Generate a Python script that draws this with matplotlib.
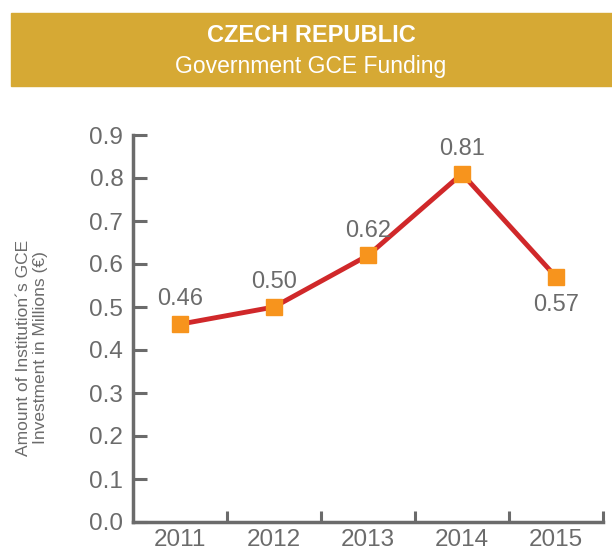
import matplotlib.pyplot as plt
from matplotlib import font_manager
from matplotlib.patches import Rectangle

# pick a narrow face if one is around
names = {f.name for f in font_manager.fontManager.ttflist}
narrow = 'Liberation Sans Narrow' if 'Liberation Sans Narrow' in names else 'Liberation Sans'
plt.rcParams['font.family'] = [narrow, 'DejaVu Sans']

years = ['2011', '2012', '2013', '2014', '2015']
funding = [0.46, 0.50, 0.62, 0.81, 0.57]
label_above = [True, True, True, True, False]

grey = '#6b6b6b'
gold = '#d6a934'

fig = plt.figure(figsize=(6.12, 5.55), dpi=100)

# header banner
fig.patches.append(Rectangle((11 / 612, 1 - 86 / 555), 601 / 612, 73 / 555,
                             transform=fig.transFigure, color=gold, zorder=0))
fig.text(311 / 612, 1 - 35 / 555, 'CZECH REPUBLIC', color='white',
         fontsize=17, fontweight='bold', ha='center', va='center')
fig.text(311 / 612, 1 - 67 / 555, 'Government GCE Funding', color='white',
         fontsize=16.5, ha='center', va='center')

ax = fig.add_axes([133 / 612, 1 - 522 / 555, 470 / 612, 387 / 555])
x = list(range(len(years)))
ax.plot(x, funding, color='#d0282a', lw=3.5, zorder=2)
ax.plot(x, funding, ls='none', marker='s', ms=11, color='#f7941d', zorder=3)

for xi, v, up in zip(x, funding, label_above):
    ax.annotate(f'{v:.2f}', (xi, v), xytext=(0, 10 if up else -12),
                textcoords='offset points', ha='center',
                va='bottom' if up else 'top', color=grey, fontsize=17)

ax.set_xlim(-0.5, 4.5)
ax.set_ylim(0, 0.9)
ax.set_yticks([i / 10 for i in range(10)])
ax.set_yticklabels([f'{i / 10:.1f}' for i in range(10)])
ax.set_xticks([i + 0.5 for i in range(5)])
ax.set_xticklabels([])
ax.set_xticks(x, minor=True)
ax.set_xticklabels(years, minor=True)
ax.tick_params(axis='x', which='minor', length=0, pad=5)
ax.tick_params(axis='x', which='major', direction='in', length=8, width=2.2, color=grey)
ax.tick_params(axis='y', direction='in', length=10, width=2.2, color=grey, pad=7)
ax.tick_params(labelsize=17.5, labelcolor=grey, which='both')

for s in ['top', 'right']:
    ax.spines[s].set_visible(False)
for s in ['left', 'bottom']:
    ax.spines[s].set_color(grey)
    ax.spines[s].set_linewidth(2.5)

ax.set_ylabel('Amount of Institution\u00b4s GCE\nInvestment in Millions (\u20ac)',
              color=grey, fontsize=12.5, linespacing=1.2)
ax.yaxis.set_label_coords(-0.18, 0.45)

fig.savefig('out.png', dpi=100)
